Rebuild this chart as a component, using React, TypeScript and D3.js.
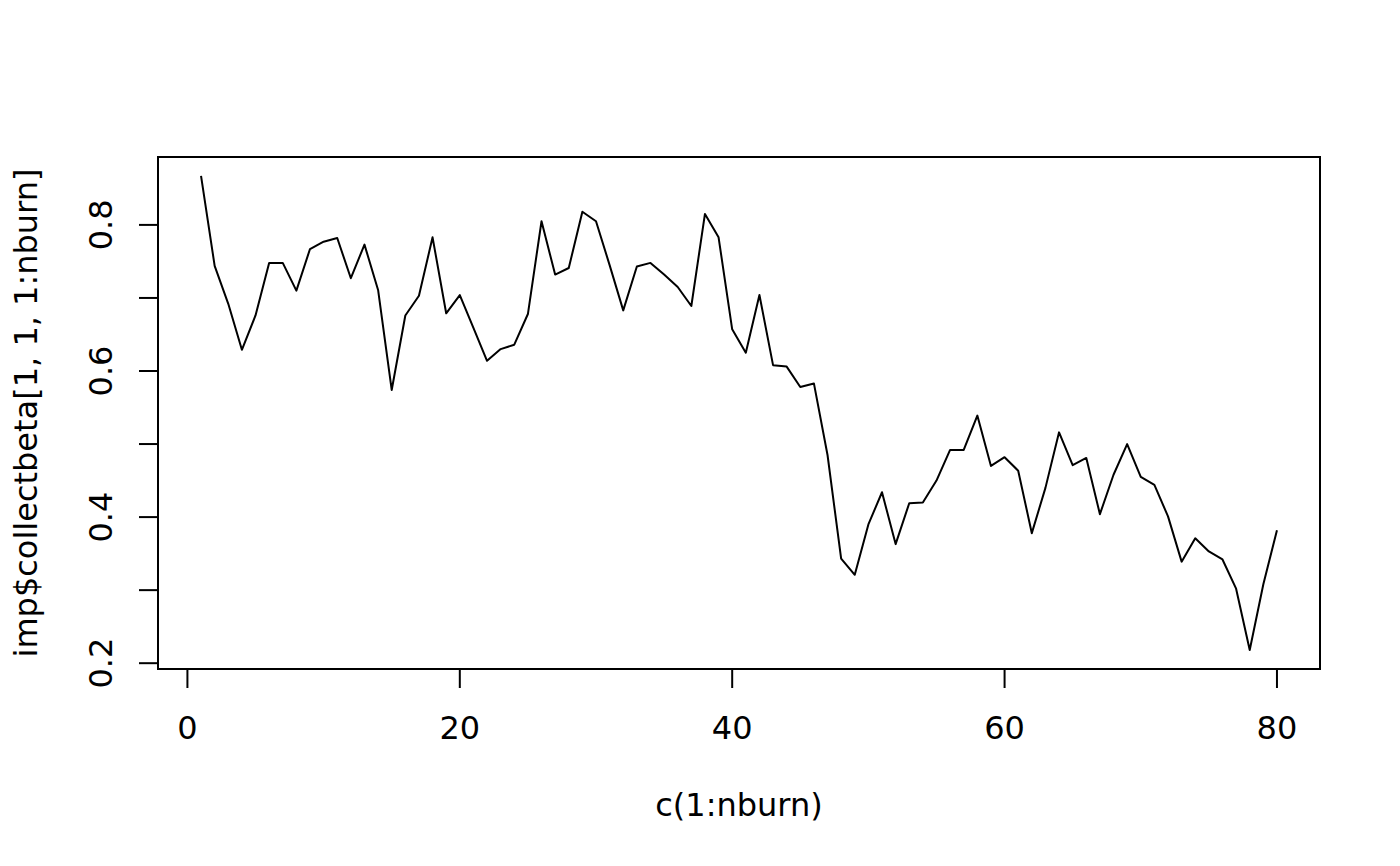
import * as d3 from 'd3'

// burn-in trace, one value per iteration 1..80
const betaTrace = [
  0.867, 0.744, 0.692, 0.629, 0.676, 0.748, 0.748, 0.710, 0.767, 0.777,
  0.782, 0.727, 0.773, 0.711, 0.574, 0.676, 0.703, 0.783, 0.679, 0.704,
  0.659, 0.614, 0.630, 0.636, 0.678, 0.805, 0.732, 0.741, 0.818, 0.805,
  0.745, 0.683, 0.743, 0.748, 0.732, 0.715, 0.689, 0.815, 0.783, 0.657,
  0.625, 0.704, 0.608, 0.606, 0.578, 0.583, 0.485, 0.343, 0.321, 0.390,
  0.434, 0.363, 0.419, 0.420, 0.450, 0.492, 0.492, 0.539, 0.470, 0.482,
  0.4635, 0.378, 0.440, 0.516, 0.471, 0.481, 0.404, 0.458, 0.500, 0.455,
  0.444, 0.401, 0.339, 0.371, 0.353, 0.342, 0.302, 0.218, 0.308, 0.382,
]
const iterations = betaTrace.map((_, i) => i + 1)

const xTicks = [0, 20, 40, 60, 80]
const yTicks = [0.2, 0.3, 0.4, 0.5, 0.6, 0.7, 0.8]
const yTickLabels = ['0.2', '', '0.4', '', '0.6', '', '0.8']

const xTitle = 'c(1:nburn)'
const yTitle = 'imp$collectbeta[1, 1, 1:nburn]'

const W = 1400
const H = 866
const margin = { top: 157, right: 80, bottom: 197, left: 158 }
const FONT = 'DejaVu Sans, sans-serif'
const FS = 32

// R style axis limits: data range padded 4% on each side
function padded(ext: [number, number]): [number, number] {
  const r = ext[1] - ext[0]
  return [ext[0] - 0.04 * r, ext[1] + 0.04 * r]
}

export default function App() {
  const x = d3.scaleLinear()
    .domain(padded(d3.extent(iterations) as [number, number]))
    .range([margin.left, W - margin.right])
  const y = d3.scaleLinear()
    .domain(padded(d3.extent(betaTrace) as [number, number]))
    .range([H - margin.bottom, margin.top])

  const line = d3.line<number>()
    .x((_, i) => x(iterations[i]))
    .y(d => y(d))

  const bottom = H - margin.bottom
  const left = margin.left
  const tickLen = 19

  return (
    <svg width={W} height={H} style={{ position: 'absolute', left: 0, top: 0, background: '#fff' }}
      fontFamily={FONT} fontSize={FS}>
      <rect x={0} y={0} width={W} height={H} fill="#fff" />

      {/* plot frame */}
      <rect x={margin.left} y={margin.top}
        width={W - margin.left - margin.right} height={H - margin.top - margin.bottom}
        fill="none" stroke="#000" strokeWidth={2} />

      {/* x axis */}
      <line x1={x(xTicks[0])} x2={x(xTicks[xTicks.length - 1])} y1={bottom} y2={bottom}
        stroke="#000" strokeWidth={2} />
      {xTicks.map(t => (
        <g key={t}>
          <line x1={x(t)} x2={x(t)} y1={bottom} y2={bottom + tickLen} stroke="#000" strokeWidth={2} />
          <text x={x(t)} y={bottom + 70} textAnchor="middle">{t}</text>
        </g>
      ))}

      {/* y axis */}
      <line x1={left} x2={left} y1={y(yTicks[0])} y2={y(yTicks[yTicks.length - 1])}
        stroke="#000" strokeWidth={2} />
      {yTicks.map((t, i) => (
        <g key={t}>
          <line x1={left - tickLen} x2={left} y1={y(t)} y2={y(t)} stroke="#000" strokeWidth={2} />
          {yTickLabels[i] && (
            <text transform={`translate(${left - 46},${y(t)}) rotate(-90)`} textAnchor="middle">
              {yTickLabels[i]}
            </text>
          )}
        </g>
      ))}

      {/* axis titles */}
      <text x={(margin.left + W - margin.right) / 2} y={bottom + 147} textAnchor="middle">{xTitle}</text>
      <text transform={`translate(37,${(margin.top + H - margin.bottom) / 2}) rotate(-90)`}
        textAnchor="middle">{yTitle}</text>

      <path d={line(betaTrace) ?? ''} fill="none" stroke="#000" strokeWidth={2} strokeLinejoin="round" />
    </svg>
  )
}
